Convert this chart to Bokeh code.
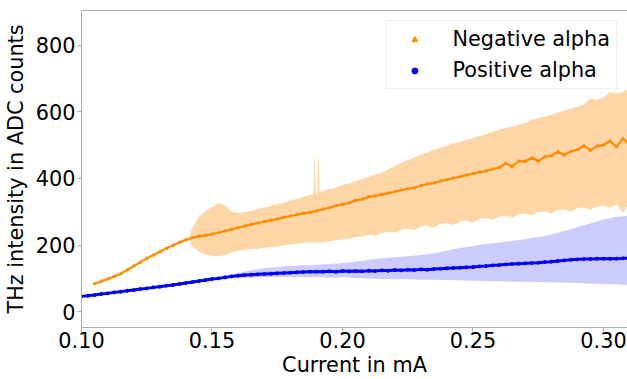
from bokeh.plotting import figure
from bokeh.models import (ColumnDataSource, Legend, LegendItem, LinearAxis,
                          FixedTicker, Range1d)
from bokeh.embed import file_html
from bokeh.resources import INLINE

# ---------------- data ----------------
neg_x = [0.1050, 0.1075, 0.1100, 0.1125, 0.1150, 0.1175, 0.1200, 0.1225, 0.1250, 0.1275,
         0.1300, 0.1325, 0.1350, 0.1375, 0.1400, 0.1425, 0.1450, 0.1475, 0.1500, 0.1525,
         0.1550, 0.1575, 0.1600, 0.1625, 0.1650, 0.1675, 0.1700, 0.1725, 0.1750, 0.1775,
         0.1800, 0.1825, 0.1850, 0.1875, 0.1900, 0.1925, 0.1950, 0.1975, 0.2000, 0.2025,
         0.2050, 0.2075, 0.2100, 0.2125, 0.2150, 0.2175, 0.2200, 0.2225, 0.2250, 0.2275,
         0.2300, 0.2325, 0.2350, 0.2375, 0.2400, 0.2425, 0.2450, 0.2475, 0.2500, 0.2525,
         0.2550, 0.2575, 0.2600, 0.2625, 0.2650, 0.2675, 0.2700, 0.2725, 0.2750, 0.2775,
         0.2800, 0.2825, 0.2850, 0.2875, 0.2900, 0.2925, 0.2950, 0.2975, 0.3000, 0.3025,
         0.3050, 0.3075, 0.3100]
neg_y = [84, 91, 98, 106, 114, 125, 137, 148, 160, 170,
         180, 190, 199, 208, 216, 222, 226, 229, 233, 237,
         242, 247, 252, 257, 262, 266, 270, 274, 278, 283,
         287, 291, 295, 298, 302, 308, 312, 318, 322, 326,
         334, 337, 345, 347, 352, 356, 360, 365, 369, 372,
         378, 383, 386, 392, 396, 401, 405, 410, 414, 419,
         422, 428, 432, 445, 436, 452, 451, 462, 452, 465,
         468, 480, 470, 481, 486, 498, 484, 497, 500, 512,
         495, 520, 500]

neg_band_x = [0.1411, 0.1425, 0.1450, 0.1475, 0.1500, 0.1525, 0.1550, 0.1575, 0.1600, 0.1625,
              0.1650, 0.1675, 0.1700, 0.1725, 0.1750, 0.1775, 0.1800, 0.1825, 0.1850, 0.1875,
              0.1888, 0.1893, 0.1898, 0.1903, 0.1908, 0.1913, 0.1925, 0.1950, 0.1975, 0.2000,
              0.2025, 0.2050, 0.2075, 0.2100, 0.2125, 0.2150, 0.2175, 0.2200, 0.2225, 0.2250,
              0.2275, 0.2300, 0.2325, 0.2350, 0.2375, 0.2400, 0.2425, 0.2450, 0.2475, 0.2500,
              0.2525, 0.2550, 0.2575, 0.2600, 0.2625, 0.2650, 0.2675, 0.2700, 0.2725, 0.2750,
              0.2775, 0.2800, 0.2825, 0.2850, 0.2875, 0.2900, 0.2925, 0.2950, 0.2975, 0.3000,
              0.3025, 0.3050, 0.3075, 0.3100]
neg_lo = [221, 195, 180, 172, 168, 166, 170, 178, 183, 185,
          188, 189, 192, 194, 196, 199, 202, 204, 206, 207,
          207, 207, 207, 207, 207, 208, 208, 212, 214, 217,
          220, 224, 226, 231, 228, 236, 240, 238, 246, 249,
          245, 256, 258, 252, 264, 266, 260, 271, 274, 268,
          279, 281, 275, 286, 289, 283, 292, 295, 289, 299,
          301, 295, 305, 307, 300, 311, 313, 306, 316, 318,
          312, 322, 296, 328]
neg_hi = [221, 252, 285, 302, 314, 326, 318, 300, 296, 299,
          303, 308, 313, 318, 323, 327, 333, 339, 345, 350,
          352, 475, 355, 356, 475, 358, 362, 368, 373, 380,
          385, 392, 398, 404, 411, 418, 427, 437, 446, 455,
          463, 472, 478, 486, 492, 498, 505, 510, 516, 521,
          527, 533, 540, 546, 551, 556, 562, 567, 575, 581,
          586, 591, 598, 603, 610, 616, 622, 640, 636, 642,
          660, 655, 660, 670]

pos_x = [0.1000, 0.1025, 0.1050, 0.1075, 0.1100, 0.1125, 0.1150, 0.1175, 0.1200, 0.1225,
         0.1250, 0.1275, 0.1300, 0.1325, 0.1350, 0.1375, 0.1400, 0.1425, 0.1450, 0.1475,
         0.1500, 0.1525, 0.1550, 0.1575, 0.1600, 0.1625, 0.1650, 0.1675, 0.1700, 0.1725,
         0.1750, 0.1775, 0.1800, 0.1825, 0.1850, 0.1875, 0.1900, 0.1925, 0.1950, 0.1975,
         0.2000, 0.2025, 0.2050, 0.2075, 0.2100, 0.2125, 0.2150, 0.2175, 0.2200, 0.2225,
         0.2250, 0.2275, 0.2300, 0.2325, 0.2350, 0.2375, 0.2400, 0.2425, 0.2450, 0.2475,
         0.2500, 0.2525, 0.2550, 0.2575, 0.2600, 0.2625, 0.2650, 0.2675, 0.2700, 0.2725,
         0.2750, 0.2775, 0.2800, 0.2825, 0.2850, 0.2875, 0.2900, 0.2925, 0.2950, 0.2975,
         0.3000, 0.3025, 0.3050, 0.3075, 0.3100]
pos_y = [46, 48, 50, 53, 55, 58, 60, 63, 65, 68,
         70, 73, 75, 78, 80, 83, 86, 89, 92, 95,
         98, 100, 103, 106, 108, 110, 111, 112, 113, 114,
         115, 116, 117, 118, 119, 120, 120, 120, 121, 120,
         122, 121, 122, 121, 123, 122, 124, 123, 125, 124,
         126, 125, 127, 126, 128, 129, 130, 131, 132, 133,
         134, 136, 137, 139, 140, 142, 143, 144, 145, 146,
         147, 149, 150, 152, 154, 156, 157, 158, 158, 159,
         159, 159, 159, 160, 160]

pos_band_x = [0.150, 0.155, 0.160, 0.165, 0.170, 0.175, 0.180, 0.185, 0.190, 0.195,
              0.200, 0.205, 0.210, 0.215, 0.220, 0.225, 0.230, 0.235, 0.240, 0.245,
              0.250, 0.255, 0.260, 0.265, 0.270, 0.275, 0.280, 0.285, 0.290, 0.295,
              0.300, 0.305, 0.310]
pos_lo = [97, 99, 101, 102, 103, 104, 104, 103, 104, 102,
          103, 101, 99, 98, 97, 97, 96, 96, 95, 94,
          93, 92, 91, 90, 90, 89, 88, 87, 86, 84,
          83, 82, 80]
pos_hi = [100, 108, 116, 124, 130, 134, 137, 139, 141, 143,
          146, 150, 156, 160, 163, 166, 170, 175, 183, 191,
          197, 203, 208, 212, 218, 224, 232, 242, 254, 265,
          277, 285, 288]

x_ticks = [0.10, 0.15, 0.20, 0.25, 0.30]
x_tick_labels = ["0.10", "0.15", "0.20", "0.25", "0.30"]
y_ticks = [0, 200, 400, 600, 800]
y_tick_labels = ["0", "200", "400", "600", "800"]

# ---------------- figure ----------------
FONT = "DejaVu Sans"
FS = "20.8px"
SPINE = "#b0b0b0"

p = figure(width=627, height=379, output_backend="svg", toolbar_location=None,
           x_range=Range1d(0.10, 0.3092), y_range=Range1d(-47.4, 903.7),
           min_border_left=79, min_border_right=0, min_border_top=10,
           min_border_bottom=48)
p.xgrid.visible = False
p.ygrid.visible = False
p.outline_line_color = None
p.background_fill_color = "white"
p.border_fill_color = "white"

neg_band = ColumnDataSource(dict(x=neg_band_x, lo=neg_lo, hi=neg_hi))
pos_band = ColumnDataSource(dict(x=pos_band_x, lo=pos_lo, hi=pos_hi))
neg_src = ColumnDataSource(dict(x=neg_x, y=neg_y))
pos_src = ColumnDataSource(dict(x=pos_x, y=pos_y))

p.varea(x="x", y1="lo", y2="hi", source=pos_band, fill_color="blue", fill_alpha=0.2)
p.varea(x="x", y1="lo", y2="hi", source=neg_band, fill_color="darkorange", fill_alpha=0.35)

p.line("x", "y", source=neg_src, line_color="darkorange", line_width=2.2)
p.line("x", "y", source=pos_src, line_color="blue", line_width=3)
r_neg = p.scatter("x", "y", source=neg_src, marker="triangle", size=3,
                  fill_color="darkorange", line_color="darkorange")
r_pos = p.scatter("x", "y", source=pos_src, marker="circle", size=3,
                  fill_color="blue", line_color="blue")

# axes
for ax in (p.xaxis[0], p.yaxis[0]):
    ax.axis_line_color = SPINE
    ax.major_tick_line_color = SPINE
    ax.minor_tick_line_color = None
    ax.major_tick_out = 4
    ax.major_tick_in = 0
    ax.major_label_text_font = FONT
    ax.major_label_text_font_size = FS
    ax.major_label_text_color = "black"
    ax.axis_label_text_font = FONT
    ax.axis_label_text_font_size = FS
    ax.axis_label_text_font_style = "normal"
    ax.axis_label_text_color = "black"

p.xaxis.ticker = FixedTicker(ticks=x_ticks)
p.xaxis.major_label_overrides = dict(zip(x_ticks, x_tick_labels))
p.yaxis.ticker = FixedTicker(ticks=y_ticks)
p.yaxis.major_label_overrides = dict(zip(y_ticks, y_tick_labels))
p.xaxis.axis_label = "Current in mA"
p.yaxis.axis_label = "THz intensity in ADC counts"
p.xaxis.major_label_standoff = 0
p.xaxis.axis_label_standoff = 2
p.yaxis.major_label_standoff = 2
p.yaxis.axis_label_standoff = 5

top = LinearAxis(ticker=FixedTicker(ticks=[]), axis_line_color=SPINE,
                 major_tick_out=0, major_tick_in=0, minor_tick_out=0, minor_tick_in=0,
                 major_label_text_font_size="0px", major_label_standoff=0)
p.add_layout(top, "above")

legend = Legend(items=[LegendItem(label="Negative alpha", renderers=[r_neg]),
                       LegendItem(label="Positive alpha", renderers=[r_pos])],
                location="top_right", margin=10)
legend.label_text_font = FONT
legend.label_text_font_size = FS
legend.label_text_color = "black"
legend.label_height = 24
legend.glyph_height = 15
legend.glyph_width = 44
legend.label_standoff = 16
legend.padding = 6
legend.spacing = 7
legend.border_line_color = "#dddddd"
legend.border_line_width = 1
legend.background_fill_color = "white"
legend.background_fill_alpha = 0.8
p.add_layout(legend, "center")

open("out.html", "w").write(file_html(p, INLINE))
